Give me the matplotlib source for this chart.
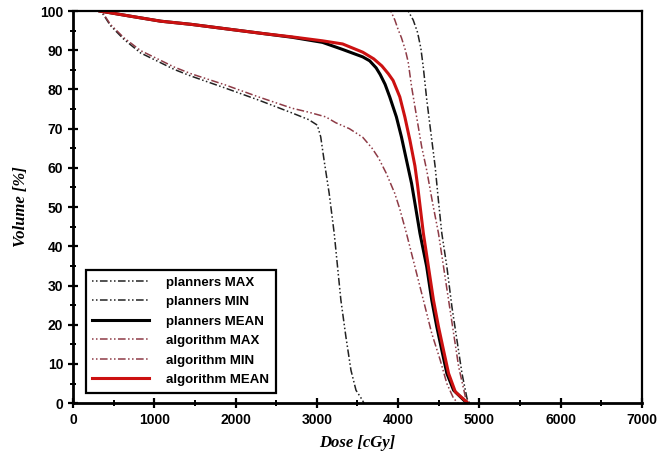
import matplotlib
matplotlib.use("Agg")
import matplotlib.pyplot as plt
from matplotlib.ticker import MultipleLocator

# ---- data (dose in cGy, volume in %) ----
pl_max_dose = [4124, 4186, 4240, 4280, 4311, 4352, 4394, 4456, 4497, 4538, 4600, 4662,
               4724, 4786, 4848, 4880]
pl_max_vol = [100, 97.7, 94.5, 90.5, 85.5, 77.5, 70.5, 60.3, 51.5, 43.3, 34.8, 24.6,
              16.1, 7.6, 1.2, 0]

pl_min_dose = [330, 377, 460, 625, 832, 1040, 1246, 1453, 1867, 2282, 2696, 2900, 3006,
               3048, 3089, 3152, 3214, 3255, 3296, 3358, 3420, 3482, 3557, 3580]
pl_min_vol = [100, 99, 96.3, 92.8, 89.3, 87.2, 85.1, 83.4, 80.4, 77.3, 74, 72.3, 70.9,
              67.9, 62, 53.5, 43.3, 34.8, 26.3, 16.9, 8.4, 3.3, 0.9, 0]

pl_mean_dose = [330, 700, 1080, 1453, 2320, 2696, 3070, 3317, 3565, 3650, 3730, 3780,
                3840, 3897, 3979, 4041, 4103, 4166, 4207, 4269, 4352, 4414, 4476, 4538,
                4600, 4683, 4807, 4850]
pl_mean_vol = [100, 98.7, 97.4, 96.6, 94.3, 93.3, 92.0, 90.2, 88.3, 87.3, 85.5, 83.8,
               81.3, 78.1, 73, 67.9, 62, 56, 51, 43.3, 34.8, 26.3, 19.5, 13.5,
               7.6, 3.3, 0.8, 0]

al_max_dose = [3910, 3960, 4000, 4041, 4090, 4124, 4166, 4228, 4290, 4352, 4425, 4497,
               4559, 4621, 4683, 4745, 4828, 4870]
al_max_vol = [100, 97.7, 95.3, 93.2, 90, 87, 80.7, 73, 65.4, 59.4, 51, 43.3,
              34.8, 26.3, 17.8, 9.3, 1.6, 0]

al_min_dose = [330, 377, 460, 625, 832, 1040, 1246, 1453, 1867, 2282, 2696, 2900, 3110,
               3234, 3400, 3565, 3680, 3760, 3855, 3959, 4021, 4103, 4207, 4311, 4414,
               4518, 4600, 4683, 4740]
al_min_vol = [100, 99.2, 96.6, 93.2, 89.9, 87.8, 85.7, 84, 81.2, 78.1, 75.2, 74.2, 73,
              71.5, 70, 67.8, 65, 62.5, 58.6, 53.5, 49.5, 43.3, 34.8, 26.3, 17.8,
              11, 5, 1.2, 0]

al_mean_dose = [330, 700, 1080, 1453, 2320, 2696, 3070, 3317, 3565, 3700, 3800, 3880,
                3938, 4021, 4083, 4145, 4207, 4240, 4269, 4311, 4373, 4435, 4497, 4559,
                4621, 4704, 4828, 4860]
al_mean_vol = [100, 98.7, 97.4, 96.6, 94.3, 93.4, 92.4, 91.6, 89.5, 87.8, 86, 84,
               82.3, 78.1, 73, 67.1, 60.5, 55.5, 50.5, 43.3, 34.8, 26.3, 19.5, 13.5,
               7.6, 2.9, 0.6, 0]

labels = ["planners MAX", "planners MIN", "planners MEAN",
          "algorithm MAX", "algorithm MIN", "algorithm MEAN"]

x_ticks = [0, 1000, 2000, 3000, 4000, 5000, 6000, 7000]
y_ticks = [0, 10, 20, 30, 40, 50, 60, 70, 80, 90, 100]

# ---- figure ----
fig = plt.figure(figsize=(6.6, 4.53), dpi=100)
ax = fig.add_axes([0.1106, 0.110, 0.862, 0.8657])

dashdotdot = (0, (1, 1.6, 1, 1.6, 5, 1.6))
pl_col = "#222222"
al_col = "#8e3b46"

ax.plot(pl_max_dose, pl_max_vol, color=pl_col, lw=1.1, ls=dashdotdot, label=labels[0])
ax.plot(pl_min_dose, pl_min_vol, color=pl_col, lw=1.1, ls=dashdotdot, label=labels[1])
ax.plot(pl_mean_dose, pl_mean_vol, color="black", lw=2.2, label=labels[2])
ax.plot(al_max_dose, al_max_vol, color=al_col, lw=1.1, ls=dashdotdot, label=labels[3])
ax.plot(al_min_dose, al_min_vol, color=al_col, lw=1.1, ls=dashdotdot, label=labels[4])
ax.plot(al_mean_dose, al_mean_vol, color="#cc1111", lw=2.2, label=labels[5])

ax.set_xlim(0, 7000)
ax.set_ylim(0, 100)
ax.set_xticks(x_ticks)
ax.set_yticks(y_ticks)
ax.xaxis.set_minor_locator(MultipleLocator(500))
ax.yaxis.set_minor_locator(MultipleLocator(5))
ax.tick_params(which="major", direction="inout", length=7, width=1.6,
               labelsize=10, top=False, right=False)
ax.tick_params(which="minor", direction="inout", length=5, width=1.4,
               top=False, right=False)
for lab in ax.get_xticklabels() + ax.get_yticklabels():
    lab.set_fontfamily("Liberation Sans")
    lab.set_fontweight("bold")

for side in ["left", "bottom"]:
    ax.spines[side].set_linewidth(2.0)
for side in ["top", "right"]:
    ax.spines[side].set_linewidth(1.6)

ax.set_xlabel("Dose [cGy]", fontfamily="Liberation Serif", fontstyle="italic",
              fontweight="bold", fontsize=12, labelpad=6)
ax.set_ylabel("Volume [%]", fontfamily="Liberation Serif", fontstyle="italic",
              fontweight="bold", fontsize=12, labelpad=8)

leg = ax.legend(loc="lower left", bbox_to_anchor=(0.0105, 0.01), fancybox=False,
                framealpha=1, edgecolor="black", handlelength=4.3, handletextpad=1.3,
                labelspacing=0.55, borderpad=0.5,
                prop={"family": "Liberation Sans", "weight": "bold", "size": 9.5})
leg.get_frame().set_linewidth(1.6)

fig.savefig("out.png", dpi=100)
